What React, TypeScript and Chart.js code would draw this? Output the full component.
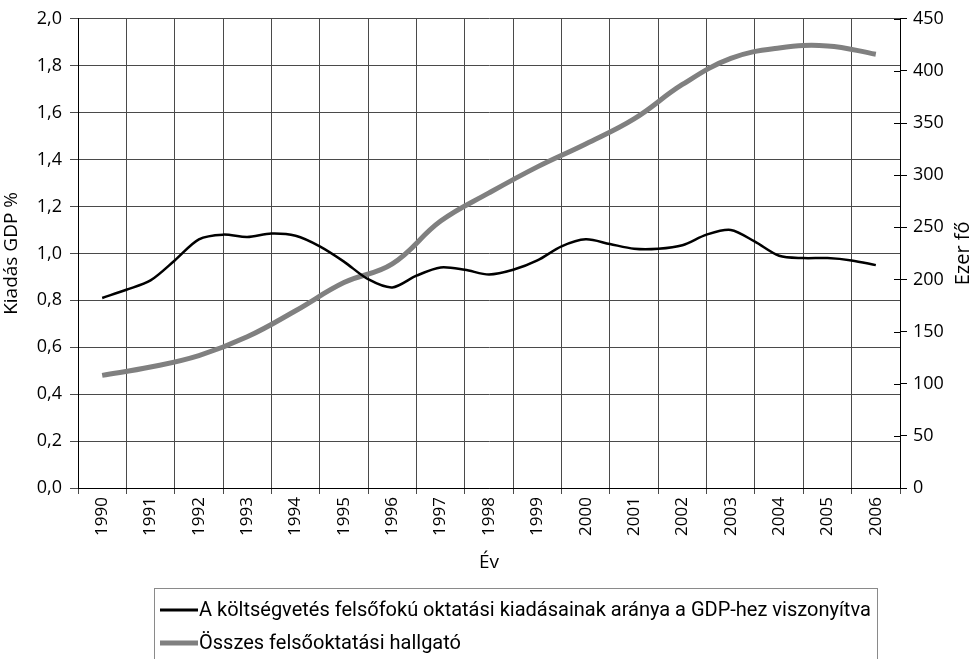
import React, { useEffect, useRef } from 'react';
import { Chart, registerables } from 'chart.js';

Chart.register(...registerables);

const years = ['1990', '1991', '1992', '1993', '1994', '1995', '1996', '1997', '1998', '1999', '2000', '2001', '2002', '2003', '2004', '2005', '2006'];

// half-year sampling of the spending series
const spendingPeriods = [
  1990, 1990.5, 1991, 1991.5, 1992, 1992.5, 1993, 1993.5, 1994, 1994.5, 1995, 1995.5,
  1996, 1996.5, 1997, 1997.5, 1998, 1998.5, 1999, 1999.5, 2000, 2000.5, 2001, 2001.5,
  2002, 2002.5, 2003, 2003.5, 2004, 2004.5, 2005, 2005.5, 2006,
];
const spendingShare = [
  0.81, 0.845, 0.885, 0.97, 1.06, 1.08, 1.07, 1.085, 1.075, 1.03, 0.965, 0.89,
  0.855, 0.905, 0.94, 0.93, 0.91, 0.93, 0.97, 1.03, 1.06, 1.04, 1.02, 1.02,
  1.035, 1.08, 1.1, 1.05, 0.99, 0.98, 0.98, 0.97, 0.95,
];

const studentYears = [1990, 1991, 1992, 1993, 1994, 1995, 1996, 1997, 1998, 1999, 2000, 2001, 2002, 2003, 2004, 2005, 2006];
const students = [108, 116, 127, 145, 170, 197, 215, 256, 283, 308, 330, 354, 387, 412, 422, 424, 416];

const seriesLabels = [
  'A költségvetés felsőfokú oktatási kiadásainak aránya a GDP-hez viszonyítva',
  'Összes felsőoktatási hallgató',
];
const leftTitle = 'Kiadás GDP %';
const rightTitle = 'Ezer fő';
const xTitle = 'Év';

const FONT = '"Open Sans", sans-serif';
const LEGEND_FONT = 'Roboto, sans-serif';
const GRID = '#4a4a4a';

const extrasPlugin = {
  id: 'extras',
  afterDraw(chart: any) {
    const { ctx, chartArea } = chart;
    const y1 = chart.scales.y1;
    ctx.save();
    ctx.strokeStyle = '#000';
    ctx.lineWidth = 1;
    y1.ticks.forEach((t: any) => {
      const py = Math.round(y1.getPixelForValue(t.value)) + 0.5;
      ctx.beginPath();
      ctx.moveTo(chartArea.right - 6, py);
      ctx.lineTo(chartArea.right, py);
      ctx.stroke();
    });
    ctx.fillStyle = '#000';
    ctx.font = '19px ' + FONT;
    ctx.textAlign = 'center';
    ctx.textBaseline = 'middle';
    ctx.fillText(xTitle, (chartArea.left + chartArea.right) / 2, 563);
    ctx.save();
    ctx.translate(963, (chartArea.top + chartArea.bottom) / 2);
    ctx.rotate(-Math.PI / 2);
    ctx.font = '20px ' + FONT;
    ctx.fillText(rightTitle, 0, 0);
    ctx.restore();
    ctx.strokeStyle = '#8a8a8a';
    ctx.lineWidth = 1;
    ctx.strokeRect(154.5, 588.5, 723, 90);
    const rows = [610, 643];
    chart.data.datasets.forEach((ds: any, i: number) => {
      const y = rows[i];
      ctx.strokeStyle = ds.borderColor;
      ctx.lineWidth = i === 0 ? 3 : 5;
      ctx.beginPath();
      ctx.moveTo(160, y);
      ctx.lineTo(198, y);
      ctx.stroke();
      ctx.fillStyle = '#000';
      ctx.font = '20px ' + LEGEND_FONT;
      ctx.textAlign = 'left';
      ctx.textBaseline = 'middle';
      ctx.fillText(ds.label, 199, y + 1);
    });
    ctx.restore();
  },
};

export default function App() {
  const canvasRef = useRef<HTMLCanvasElement | null>(null);

  useEffect(() => {
    const canvas = canvasRef.current;
    if (!canvas) return;
    let chart: Chart | null = null;
    let cancelled = false;
    const build = () => {
      if (cancelled) return;
      chart = new Chart(canvas, {
        type: 'line',
        data: {
          labels: years,
          datasets: [
            {
              label: seriesLabels[0],
              data: spendingPeriods.map((p, i) => ({ x: p, y: spendingShare[i] })),
              xAxisID: 'x2',
              yAxisID: 'y',
              borderColor: '#000000',
              borderWidth: 2.5,
              pointRadius: 0,
              tension: 0.3,
              fill: false,
            },
            {
              label: seriesLabels[1],
              data: studentYears.map((p, i) => ({ x: p, y: students[i] })),
              xAxisID: 'x2',
              yAxisID: 'y1',
              borderColor: '#808080',
              borderWidth: 5,
              pointRadius: 0,
              tension: 0.4,
              fill: false,
            },
          ],
        },
        options: {
          responsive: false,
          animation: false,
          parsing: false as any,
          layout: { padding: { top: 15, bottom: 0, left: 0, right: 0 } },
          plugins: {
            legend: { display: false },
            tooltip: { enabled: false },
          },
          scales: {
            x: {
              type: 'category',
              position: 'bottom',
              offset: true,
              grid: { offset: true, color: GRID, lineWidth: 1, tickLength: 6 },
              border: { display: true, color: '#000' },
              ticks: {
                maxRotation: 90,
                minRotation: 90,
                padding: 3,
                color: '#000',
                font: { family: FONT, size: 17 },
                autoSkip: false,
              },
              afterFit(scale: any) {
                scale.height = 171;
              },
            },
            x2: {
              type: 'linear',
              display: false,
              min: 1989.5,
              max: 2006.5,
            },
            y: {
              type: 'linear',
              position: 'left',
              min: 0,
              max: 2,
              grid: { color: GRID, lineWidth: 1, tickLength: 8 },
              border: { display: true, color: '#000' },
              ticks: {
                stepSize: 0.2,
                padding: 8,
                color: '#000',
                font: { family: FONT, size: 18 },
                callback: (v: any) => Number(v).toFixed(1).replace('.', ','),
              },
              title: {
                display: true,
                text: leftTitle,
                color: '#000',
                font: { family: FONT, size: 19 },
                padding: { top: 0, bottom: 0 },
              },
              afterFit(scale: any) {
                scale.width = 78;
              },
            },
            y1: {
              type: 'linear',
              position: 'right',
              min: 0,
              max: 450,
              grid: { drawOnChartArea: false, color: '#000', tickLength: 7 },
              border: { display: true, color: '#000' },
              ticks: {
                stepSize: 50,
                padding: 6,
                color: '#000',
                font: { family: FONT, size: 18 },
              },
              afterFit(scale: any) {
                scale.width = 73;
              },
            },
          },
        },
        plugins: [extrasPlugin],
      });
    };
    const fonts: any = (document as any).fonts;
    if (fonts && fonts.load) {
      Promise.all([
        fonts.load('18px "Open Sans"'),
        fonts.load('20px Roboto'),
      ]).then(build, build);
    } else {
      build();
    }
    return () => {
      cancelled = true;
      if (chart) chart.destroy();
    };
  }, []);

  return (
    <div style={{ position: 'fixed', left: 0, top: 0, width: 973, height: 659, background: '#fff' }}>
      <canvas ref={canvasRef} width={973} height={659} style={{ display: 'block' }} />
    </div>
  );
}
